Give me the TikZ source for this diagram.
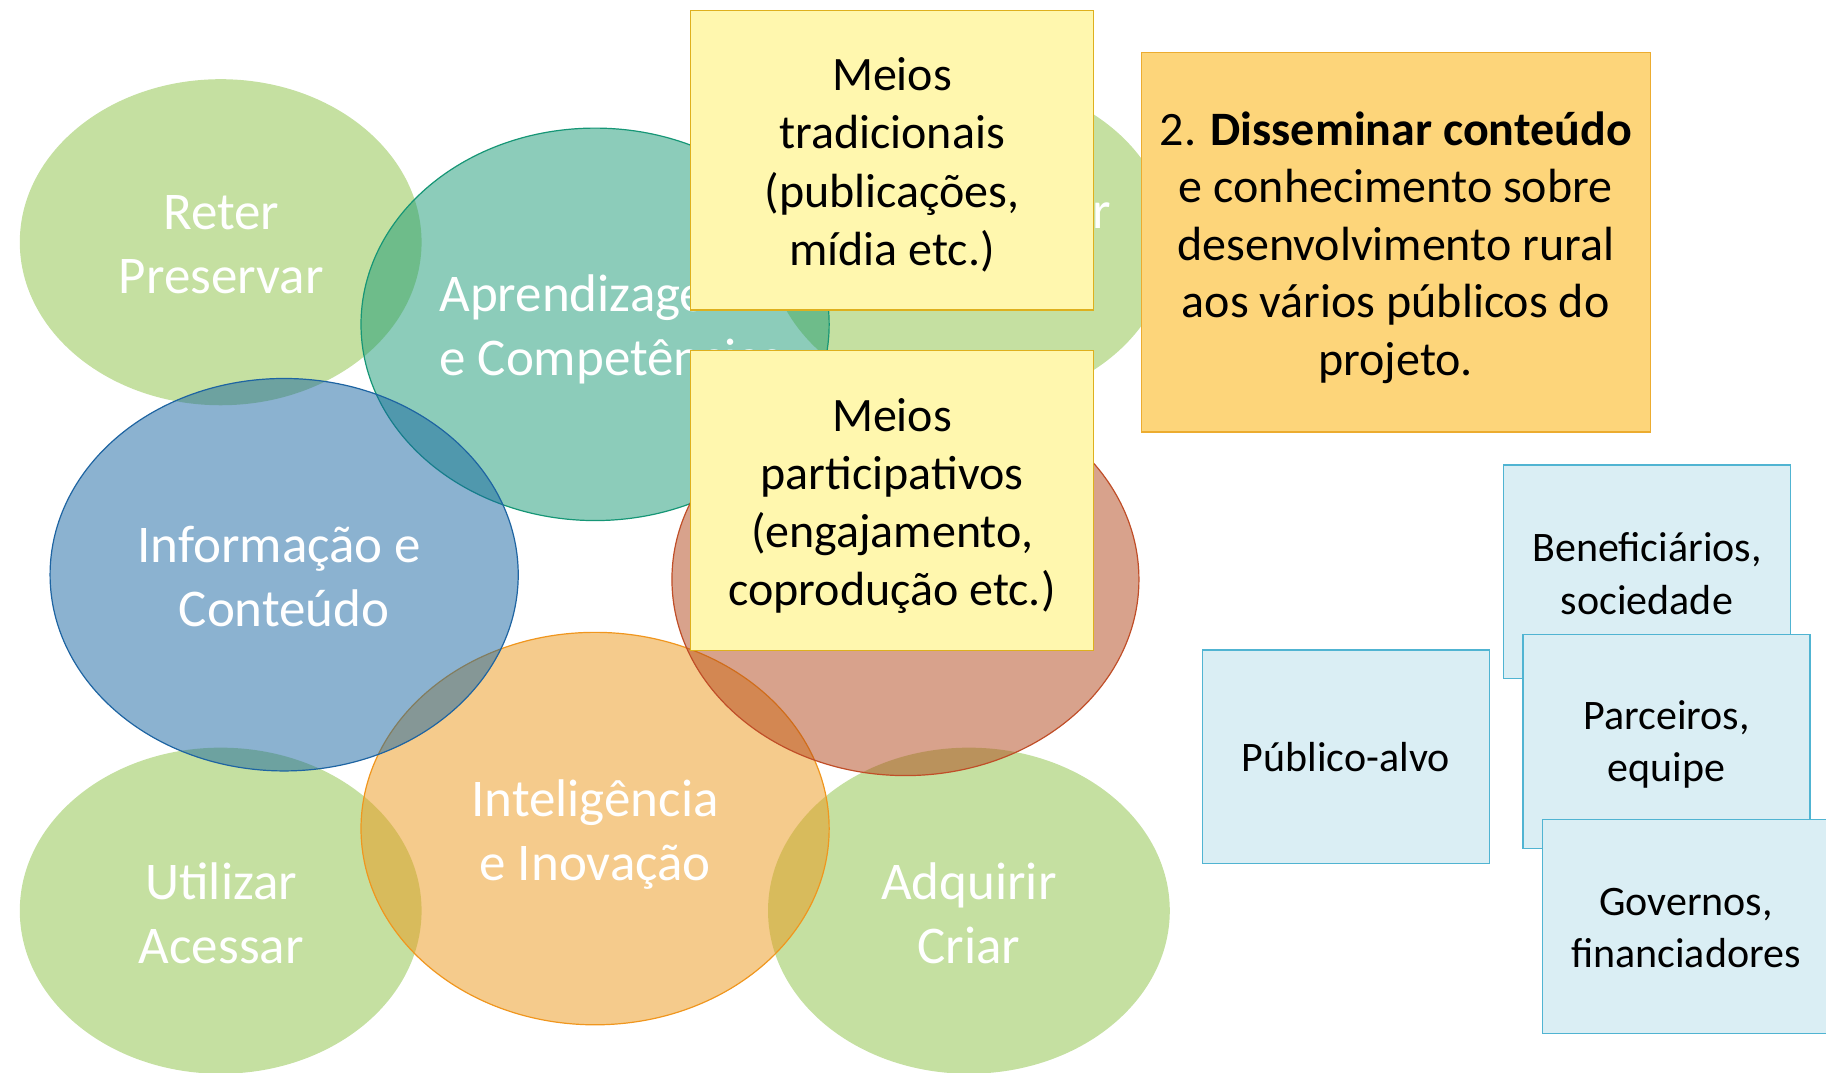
\documentclass[tikz,border=0pt]{standalone}
\usepackage{fontspec}
\setmainfont{Carlito}
\usetikzlibrary{shapes.geometric}
\definecolor{gBase}{RGB}{139,193,67}
\definecolor{tBase}{RGB}{25,153,117}
\definecolor{tLine}{RGB}{22,150,118}
\definecolor{bBase}{RGB}{23,101,161}
\definecolor{bLine}{RGB}{30,100,162}
\definecolor{oBase}{RGB}{235,151,25}
\definecolor{oLine}{RGB}{240,150,30}
\definecolor{rBase}{RGB}{177,69,25}
\definecolor{rLine}{RGB}{192,78,40}
\definecolor{yFill}{RGB}{255,247,174}
\definecolor{yLine}{RGB}{222,176,30}
\definecolor{orFill}{RGB}{253,213,122}
\definecolor{orLine}{RGB}{236,172,48}
\definecolor{cFill}{RGB}{218,238,244}
\definecolor{cLine}{RGB}{80,180,210}
\tikzset{
  vsize/.style 2 args={minimum width=#1*0.5823pt, minimum height=#2*0.5823pt},
  venn/.style={ellipse, inner sep=0pt, fill opacity=0.5, draw opacity=1, line width=0.6pt},
  vtext/.style={text=white, align=center, font=\fontsize{26.5}{32}\selectfont, inner sep=0pt},
  greenv/.style={venn, fill=gBase, vsize={345}{280}},
  meansbox/.style={rectangle, inner sep=0pt, fill=yFill, draw=yLine, line width=0.6pt,
    vsize={346}{257.5}},
  meanstext/.style={align=center, inner sep=0pt, font=\fontsize{24}{29.1}\selectfont},
  goalbox/.style={rectangle, inner sep=0pt, fill=orFill, draw=orLine, line width=0.6pt,
    vsize={437}{326}},
  goaltext/.style={align=center, inner sep=0pt, font=\fontsize{24}{28.8}\selectfont},
  audbox/.style={rectangle, inner sep=0pt, fill=cFill, draw=cLine, line width=0.7pt,
    vsize={246.5}{183.5}},
  audtext/.style={align=center, inner sep=0pt, font=\fontsize{21}{26.2}\selectfont}
}
\begin{document}
\begin{tikzpicture}[x=0.5823pt,y=-0.5823pt]
\useasboundingbox (0,0) rectangle (1568,921);
% green outer ellipses
\node[greenv] (reter) at (189.5,208) {};
\node[vtext] (retertext) at (190,210) {Reter\\Preservar};
\node[greenv] (compart) at (832,208) {};
\node[vtext, anchor=base] (comparttext) at (832,196) {Compartilhar};
\node[greenv] (utilizar) at (189.5,782) {};
\node[vtext] (utilizartext) at (190,784) {Utilizar\\Acessar};
\node[greenv] (adquirir) at (832,782) {};
\node[vtext] (adquirirtext) at (832,784) {Adquirir\\Criar};
% central ellipses
\node[venn, fill=tBase, draw=tLine, vsize={402}{337}] (aprend) at (511,278.5) {};
\node[vtext, align=left, anchor=west] (aprendtext) at (377,283) {Aprendizagem\\e Competências};
\node[venn, fill=oBase, draw=oLine, vsize={402}{337}] (intel) at (511,711.5) {};
\node[vtext] (inteltext) at (511,716.5) {Inteligência\\e Inovação};
\node[venn, fill=bBase, draw=bLine, vsize={402}{337}] (inform) at (244,493.5) {};
\node[vtext] (informtext) at (244,495) {Informação e\kern5pt\\Conteúdo};
\node[venn, fill=rBase, draw=rLine, vsize={401}{337}] (partic) at (777.5,497.5) {};
% yellow boxes
\node[meansbox] (trad) at (766,137.5) {};
\node[meanstext] (tradtext) at (766,141.5) {Meios\\tradicionais\\(publicações,\\mídia etc.)};
\node[meansbox] (partbox) at (766,430) {};
\node[meanstext] (partboxtext) at (766,434.5) {Meios\\participativos\\(engajamento,\\coprodução etc.)};
% goal box
\node[goalbox] (goal) at (1198.5,208) {};
\node[goaltext] (goaltext) at (1198.5,212.5) {2. \textbf{Disseminar conteúdo}\\e conhecimento sobre\\desenvolvimento rural\\aos vários públicos do\\projeto.};
% audience boxes
\node[audbox] (publico) at (1155.75,649.75) {};
\node[audtext] (publicotext) at (1155.75,650.5) {Público-alvo};
\node[audbox] (benef) at (1414.25,491) {};
\node[audtext] (beneftext) at (1414.25,492.5) {Beneficiários,\\sociedade};
\node[audbox] (parc) at (1431,636.6) {};
\node[audtext] (parctext) at (1431,639) {Parceiros,\\equipe};
\node[audbox] (gov) at (1447.7,795.6) {};
\node[audtext] (govtext) at (1447.7,797) {Governos,\\financiadores};
\end{tikzpicture}
\end{document}
